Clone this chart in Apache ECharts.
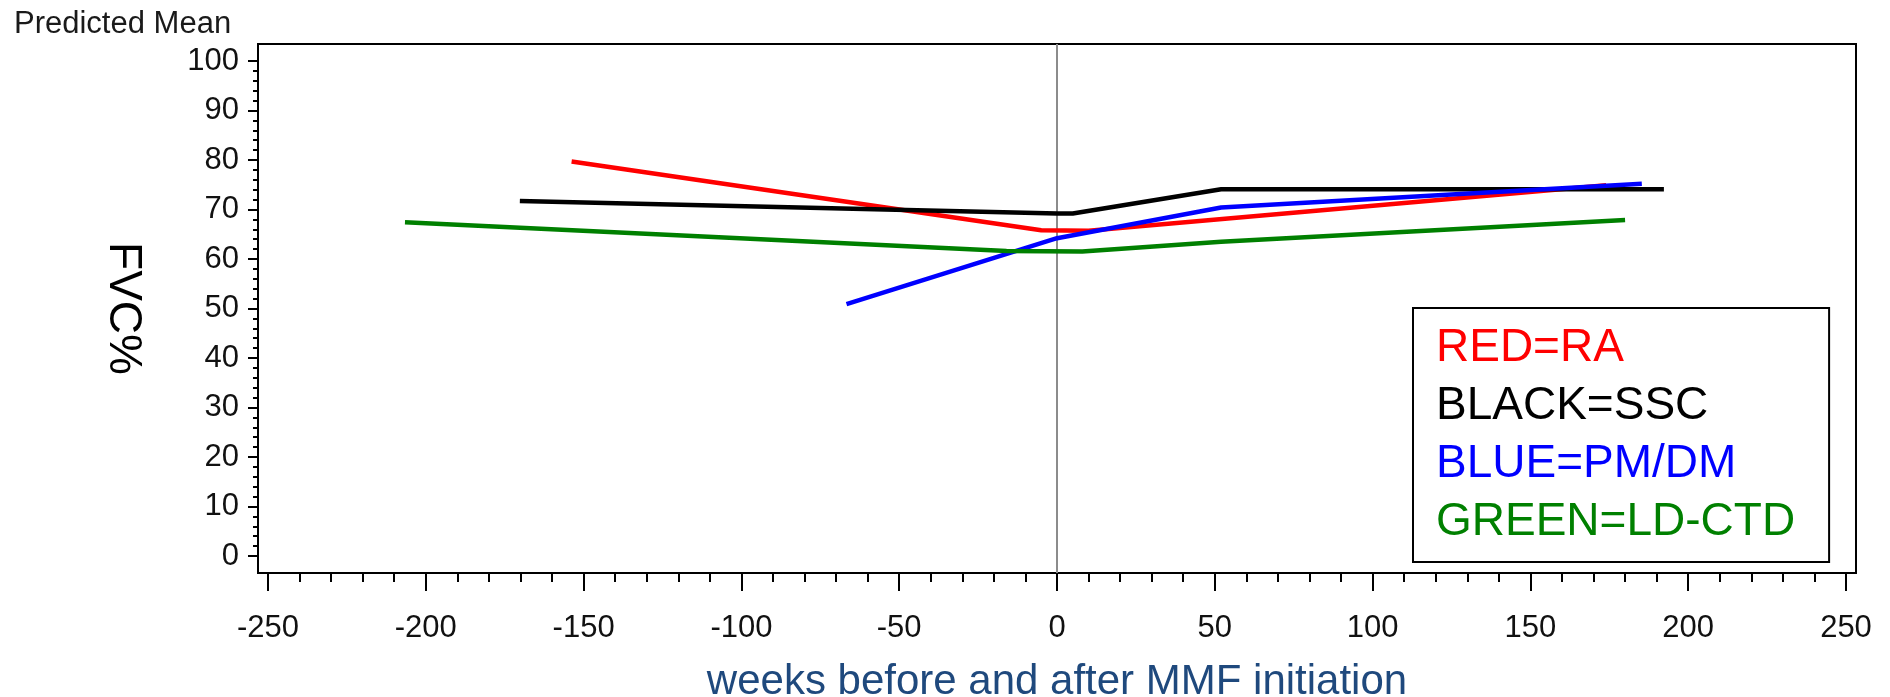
<!DOCTYPE html>
<html><head><meta charset="utf-8">
<script src="https://cdn.jsdelivr.net/npm/echarts@6/dist/echarts.min.js"></script>
<style>html,body{margin:0;padding:0;background:#fff}#chart{width:1890px;height:697px}</style>
</head><body><div id="chart"></div>
<script>
// ---- data ----
const raWeeks  = [-153.8, -5, 10, 174];
const raFvc    = [79.7, 65.8, 65.7, 74.9];
const sscWeeks = [-170.2, 0, 5, 52, 192.3];
const sscFvc   = [71.7, 69.2, 69.2, 74.1, 74.1];
const pmWeeks  = [-66.7, 0, 52, 185.3];
const pmFvc    = [50.9, 64.2, 70.4, 75.2];
const ldWeeks  = [-206.6, -16, 8, 52, 180];
const ldFvc    = [67.4, 61.6, 61.5, 63.5, 67.9];
const seriesNames  = ['RED=RA', 'BLACK=SSC', 'BLUE=PM/DM', 'GREEN=LD-CTD'];
const seriesColors = ['#ff0000', '#000000', '#0000ff', '#008000'];
const xMin = -250, xMax = 250, xStep = 50;
const yMin = 0, yMax = 100, yStep = 10;
const refWeek = 0;

// ---- layout ----
const FONT = "'Liberation Sans', Arial, Helvetica, sans-serif";
const plot = {left: 268, top: 61, width: 1578, height: 495};
const padX = 10, padY = 17;
const fxPad = padX * (xMax - xMin) / plot.width;
const fyPad = padY * (yMax - yMin) / plot.height;

const zip = (a, b) => a.map((v, i) => [v, b[i]]);
const weeksList = [raWeeks, sscWeeks, pmWeeks, ldWeeks];
const fvcList = [raFvc, sscFvc, pmFvc, ldFvc];

const series = seriesNames.map((name, i) => {
  const s = {
    name, type: 'line', xAxisIndex: 1, yAxisIndex: 1,
    data: zip(weeksList[i], fvcList[i]),
    showSymbol: false, symbol: 'none', smooth: false,
    lineStyle: {color: seriesColors[i], width: 4.5},
    itemStyle: {color: seriesColors[i]},
    z: 5
  };
  if (i === 0) {
    s.markLine = {
      silent: true, symbol: 'none', label: {show: false},
      lineStyle: {color: '#8c8c8c', width: 2, type: 'solid'},
      data: [{xAxis: refWeek}], z: 1
    };
  }
  return s;
});

const chart = echarts.init(document.getElementById('chart'), null, {renderer: 'canvas'});
chart.setOption({
  animation: false,
  backgroundColor: '#fff',
  title: {
    text: 'Predicted Mean', left: 14, top: 9, padding: 0,
    textStyle: {fontFamily: FONT, fontSize: 31, fontWeight: 'normal', color: '#1a1a1a'}
  },
  legend: {
    orient: 'vertical', left: 1413, top: 308,
    padding: [17, 34, 17, 18],
    itemWidth: 0, itemHeight: 0, itemGap: 12,
    selectedMode: false,
    borderColor: '#000', borderWidth: 2, borderRadius: 0,
    backgroundColor: '#fff',
    textStyle: {fontFamily: FONT, fontSize: 46, lineHeight: 46},
    data: seriesNames.map((n, i) => ({name: n, icon: 'rect', itemStyle: {opacity: 0}, lineStyle: {opacity: 0}, textStyle: {color: seriesColors[i], fontFamily: FONT, fontSize: 46, lineHeight: 46}}))
  },
  grid: [
    {left: plot.left, top: plot.top, width: plot.width, height: plot.height, show: false,
     containLabel: false, outerBoundsMode: 'none'},
    {left: plot.left - padX, top: plot.top - padY, width: plot.width + 2 * padX, height: plot.height + 2 * padY,
     show: true, borderColor: '#000', borderWidth: 2, backgroundColor: 'transparent',
     containLabel: false, outerBoundsMode: 'none'}
  ],
  xAxis: [
    {
      type: 'value', gridIndex: 0, min: xMin, max: xMax, interval: xStep,
      position: 'bottom', offset: padY,
      axisLine: {show: false, onZero: false},
      axisTick: {show: true, inside: false, length: 18, lineStyle: {color: '#000', width: 2}},
      minorTick: {show: true, splitNumber: 5, length: 9, lineStyle: {color: '#000', width: 2}},
      splitLine: {show: false}, minorSplitLine: {show: false},
      axisLabel: {fontFamily: FONT, fontSize: 31, color: '#111', margin: 40},
      name: 'weeks before and after MMF initiation', nameLocation: 'middle', nameGap: 88,
      nameTextStyle: {fontFamily: FONT, fontSize: 42, color: '#1F497D'}
    },
    {type: 'value', gridIndex: 1, min: xMin - fxPad, max: xMax + fxPad, show: false,
     axisLine: {onZero: false}, splitLine: {show: false}}
  ],
  yAxis: [
    {
      type: 'value', gridIndex: 0, min: yMin, max: yMax, interval: yStep,
      position: 'left', offset: padX,
      axisLine: {show: false, onZero: false},
      axisTick: {show: true, inside: false, length: 10, lineStyle: {color: '#000', width: 2}},
      minorTick: {show: true, splitNumber: 5, length: 5, lineStyle: {color: '#000', width: 2}},
      splitLine: {show: false}, minorSplitLine: {show: false},
      axisLabel: {fontFamily: FONT, fontSize: 31, color: '#111', margin: 19},
      name: 'FVC%', nameLocation: 'middle', nameRotate: -90, nameGap: 112,
      nameTextStyle: {fontFamily: FONT, fontSize: 46, color: '#000'}
    },
    {type: 'value', gridIndex: 1, min: yMin - fyPad, max: yMax + fyPad, show: false,
     axisLine: {onZero: false}, splitLine: {show: false}}
  ],
  series
});
</script>
</body></html>
